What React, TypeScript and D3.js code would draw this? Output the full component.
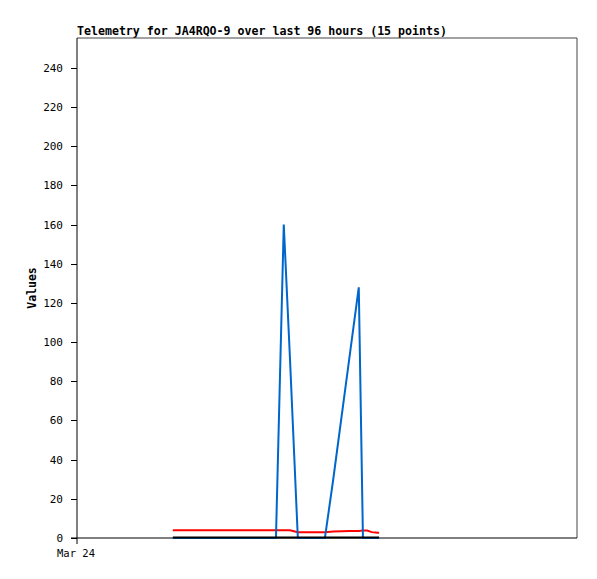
import React from "react";
import * as d3 from "d3";

const hours = [18.4, 38.2, 39.7, 40.9, 42.4, 45.1, 47.6, 49.2, 52.4, 54.1, 54.9, 55.7, 56.6, 57.8, 58.0];
const blueValues = [0, 0, 160, 91, 0, 0, 0, 30, 94, 128, 0, 0, 0, 0, 0];
const redValues = [4, 4, 4, 4, 3, 3, 3, 3.3, 3.6, 3.6, 3.8, 3.8, 3.0, 2.7, 2.7];
const blackValues = [0, 0, 0, 0, 0, 0, 0, 0, 0, 0, 0, 0, 0, 0, 0];
const yTicks = [0, 20, 40, 60, 80, 100, 120, 140, 160, 180, 200, 220, 240];
const xTickLabels = ["Mar 24"];
const xTickHours = [0];

const W = 597;
const H = 579;
const L = 77, R = 577, T = 38, B = 538;
const FONT = "'DejaVu Sans Mono', 'Liberation Mono', monospace";

export default function App() {
  const x = d3.scaleLinear().domain([0, 96]).range([L, R]);
  const y = d3.scaleLinear().domain([0, 255.3]).range([B, T]);
  const line = (vals: number[]) =>
    d3.line<number>().x((_, i) => x(hours[i])).y((v) => y(v))(vals) || "";

  return (
    <svg width={W} height={H} style={{ position: "absolute", left: 0, top: 0, background: "#fff" }}>
      <rect x={0} y={0} width={W} height={H} fill="#fff" />
      <text x={L} y={35} fontFamily={FONT} fontSize={11.6} fontWeight="bold" fill="#000">
        Telemetry for JA4RQO-9 over last 96 hours (15 points)
      </text>
      {/* frame */}
      <line x1={L} y1={T} x2={R} y2={T} stroke="#444" strokeWidth={1} />
      <line x1={R} y1={T} x2={R} y2={B} stroke="#444" strokeWidth={1} />
      <line x1={L} y1={T} x2={L} y2={B + 6} stroke="#000" strokeWidth={1} />
      <line x1={L - 6} y1={B} x2={R} y2={B} stroke="#000" strokeWidth={1} />
      {yTicks.map((t) => (
        <g key={t}>
          <line x1={L - 6} x2={L} y1={Math.round(y(t)) + 0.5} y2={Math.round(y(t)) + 0.5} stroke="#000" />
          <text x={63} y={y(t) + 4} textAnchor="end" fontFamily={FONT} fontSize={11} fill="#000">
            {t}
          </text>
        </g>
      ))}
      {xTickHours.map((h, i) => (
        <g key={h}>
          <text x={x(h) - 1} y={557} textAnchor="middle" fontFamily={FONT} fontSize={10.5} fill="#000">
            {xTickLabels[i]}
          </text>
        </g>
      ))}
      <text
        transform={`translate(36,${(T + B) / 2}) rotate(-90)`}
        textAnchor="middle"
        fontFamily={FONT}
        fontSize={11.5}
        fontWeight="bold"
        fill="#000"
      >
        Values
      </text>
      <path d={line(redValues)} fill="none" stroke="#ff0000" strokeWidth={2} />
      <path d={line(blueValues)} fill="none" stroke="#0066cc" strokeWidth={2} />
      <path d={line(blackValues)} transform="translate(0,-0.5)" fill="none" stroke="#000" strokeWidth={2} />
    </svg>
  );
}
